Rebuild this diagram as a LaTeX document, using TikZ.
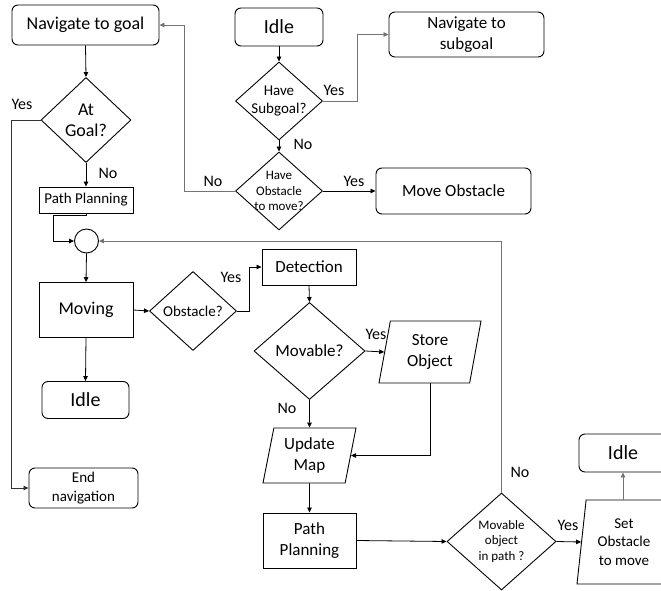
\documentclass[tikz,border=0pt]{standalone}
\usepackage{fontspec}
\setmainfont{Carlito}
\usetikzlibrary{shapes.geometric,arrows.meta}

\tikzset{
  f13/.style={font=\fontsize{13}{15.5}\selectfont},
  f15/.style={font=\fontsize{15}{18.5}\selectfont},
  f17/.style={font=\fontsize{17}{21}\selectfont},
  f18/.style={font=\fontsize{18}{21}\selectfont},
  f20/.style={font=\fontsize{20}{24}\selectfont},
  base/.style={draw, line width=0.9pt, align=center, inner sep=0pt},
  term/.style={base, rounded corners=6pt},
  proc/.style={base, rectangle},
  decision/.style={base, diamond},
  dtext/.style={align=center, inner sep=0pt},
  io/.style 2 args={base, trapezium, trapezium stretches body,
    trapezium left angle=#1, trapezium right angle=#2},
  arr/.style={line width=0.8pt, -{Triangle[length=5pt,width=4.5pt]}},
  fb/.style={arr, draw=black!55},
  lbl/.style={f17, font=\fontsize{16}{19}\selectfont, inner sep=0pt},
}

\begin{document}
\begin{tikzpicture}[x=1pt, y=-1pt]
    \useasboundingbox (0,0) rectangle (661,591);
    \clip (0,0) rectangle (661,591);

    \node[term, f18, minimum width=147pt, minimum height=40pt] (navgoal) at (85.5,25) {Navigate to goal};
    \node[decision, minimum width=90pt, minimum height=85pt,
        label={[dtext,f18]center:At\\Goal?}] (atgoal) at (86,120) {};
    \node[proc, f15, minimum width=94pt, minimum height=26pt] (plansmall) at (86,200) {Path Planning};
    \node[circle, draw, line width=0.9pt, minimum size=24pt, inner sep=0pt] (junc) at (86.5,241) {};
    \node[proc, f18, minimum width=94pt, minimum height=55pt] (moving) at (86,310) {Moving};
    \node[decision, minimum width=87pt, minimum height=79pt,
        label={[dtext,f15]center:Obstacle?}] (obst) at (193,311) {};
    \node[term, f20, minimum width=87pt, minimum height=37pt] (idleleft) at (85.5,400) {Idle};
    \node[term, f15, minimum width=109pt, minimum height=40pt] (endnav) at (83.5,488) {End\\navigation};

    \node[term, f20, minimum width=88pt, minimum height=38pt] (idletop) at (279,27) {Idle};
    \node[decision, minimum width=87pt, minimum height=78pt,
        label={[dtext,f15]center:Have\\Subgoal?}] (sub) at (279,101) {};
    \node[decision, minimum width=87pt, minimum height=78pt,
        label={[dtext,f13]center:Have\\Obstacle\\to move?}] (haveobs) at (279,191) {};
    \node[term, f17, minimum width=155pt, minimum height=45pt] (navsub) at (466.5,34.5) {Navigate to\\subgoal};
    \node[term, f17, minimum width=155pt, minimum height=46pt] (moveobs) at (453.5,191) {Move Obstacle};

    \node[proc, f17, minimum width=94pt, minimum height=36pt] (detect) at (309,267) {Detection};
    \node[decision, minimum width=111pt, minimum height=97pt,
        label={[dtext,f17]center:Movable?}] (movable) at (309.5,351) {};
    \node[io={72}{108}, f17, minimum width=102pt, minimum height=62pt] (store) at (430,352) {Store\\Object};
    \node[io={73}{107}, f17, minimum width=93pt, minimum height=55pt] (update) at (309.5,455.5) {Update\\Map};
    \node[proc, f17, minimum width=93pt, minimum height=55pt] (planbig) at (309.5,540.5) {Path\\Planning};
    \node[decision, minimum width=109pt, minimum height=97pt,
        label={[dtext,f13]center:Movable\\object\\in path ?}] (inpath) at (501.5,541.5) {};
    \node[io={79}{101}, f15, minimum width=94pt, minimum height=84pt] (setobs) at (624,542) {Set\\Obstacle\\to move};
    \node[term, f20, minimum width=88pt, minimum height=38pt] (idleright) at (623,453) {Idle};

    \node[lbl] (yes1) at (22,104) {Yes};
    \node[lbl] (no1) at (108,173) {No};
    \node[lbl] (yes2) at (334,90) {Yes};
    \node[lbl] (no2) at (303,144) {No};
    \node[lbl] (no3) at (213,181) {No};
    \node[lbl] (yes3) at (354,181) {Yes};
    \node[lbl] (yes4) at (231,277) {Yes};
    \node[lbl] (yes5) at (376,334) {Yes};
    \node[lbl] (no4) at (287,408) {No};
    \node[lbl] (no5) at (520,472) {No};
    \node[lbl] (yes6) at (568,525) {Yes};

    \draw[arr] (navgoal.south) -- (atgoal.north);
    \draw[arr, draw=black!80] (atgoal.west) -- ++(-29,0) |- (endnav.west);
    \draw[arr] (atgoal.south) -- (plansmall.north);
    \draw[arr] (plansmall.south) -- ++(0,2) -- ++(-33,0) |- (junc.west);
    \draw[arr] (junc.south) -- (moving.north);
    \draw[arr] (moving.south) -- (idleleft.north);
    \draw[arr] (moving.east) -- (obst.west);
    \draw[arr] (obst.east) -- ++(12,0) |- (detect.west);
    \draw[arr] (detect.south) -- (movable.north);
    \draw[arr] (movable.east) -- (store.west);
    \draw[arr] (movable.south) -- (update.north);
    \draw[arr] (store.south) |- (update.east);
    \draw[arr] (update.south) -- (planbig.north);
    \draw[arr] (planbig.east) -- (inpath.west);
    \draw[fb] (inpath.north) |- (junc.east);
    \draw[arr] (inpath.east) -- (setobs.west);
    \draw[fb] (idleright.south |- setobs.north) -- (idleright.south);

    \draw[arr] (idletop.south) -- (sub.north);
    \draw[arr] (sub.south) -- (haveobs.north);
    \draw[fb] (sub.east) -- ++(34,0) |- (navsub.west);
    \draw[arr] (haveobs.east) -- (moveobs.west);
    \draw[fb] (haveobs.west) -- ++(-51,0) |- (navgoal.east);
\end{tikzpicture}
\end{document}
